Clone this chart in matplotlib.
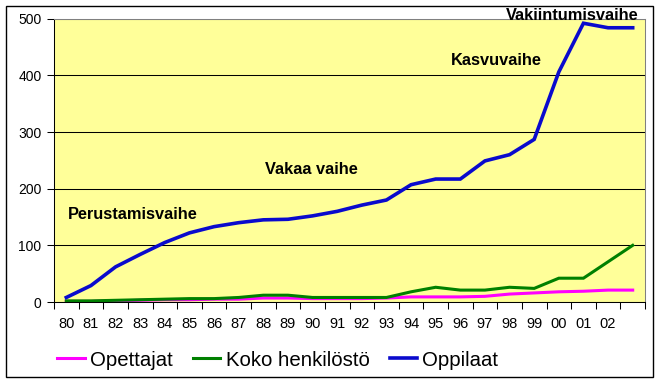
import matplotlib
matplotlib.use("Agg")
import matplotlib.pyplot as plt
from matplotlib.patches import Rectangle

plt.rcParams["font.family"] = ["Liberation Sans", "DejaVu Sans"]

years = list(range(1980, 2004))
year_labels = [str(y)[2:] for y in years[:-1]] + [""]

opettajat = [1, 1, 2, 3, 4, 4, 5, 5, 7, 7, 6, 6, 6, 7,
             9, 9, 9, 10, 14, 16, 18, 19, 21, 21]
koko_henkilosto = [2, 2, 3, 4, 5, 6, 6, 8, 12, 12, 8, 8, 8, 8,
                   18, 26, 21, 21, 26, 24, 42, 42, 71, 100]
oppilaat = [8, 29, 62, 84, 105, 122, 133, 140, 145, 146, 152, 160, 171, 180,
            207, 217, 217, 249, 260, 287, 406, 492, 484, 484]

series_names = ["Opettajat", "Koko henkilöstö", "Oppilaat"]
series_colors = ["#FF00FF", "#008000", "#0A0ACD"]

phase_labels = ["Perustamisvaihe", "Vakaa vaihe", "Kasvuvaihe", "Vakiintumisvaihe"]
phase_pos = [(0.07, 155), (8.07, 233), (15.62, 427), (17.86, 505)]

fig = plt.figure(figsize=(6.61, 3.83), dpi=100)
ax = fig.add_axes([54 / 661, 81 / 383, 591 / 661, 283.3 / 383])
ax.set_facecolor("#FFFF99")

x = list(range(len(years)))
for vals, name, col in zip([opettajat, koko_henkilosto, oppilaat], series_names, series_colors):
    lw = 2.6 if name == "Oppilaat" else 2.2
    ax.plot(x, vals, color=col, lw=lw, label=name, solid_joinstyle="miter")

ax.set_xlim(-0.5, len(years) - 0.5)
ax.set_ylim(0, 500)
ax.set_yticks(range(0, 501, 100))
ax.yaxis.grid(True, color="black", lw=0.75)
ax.set_axisbelow(True)

# ticks between categories, labels at category centres
ax.set_xticks([i - 0.5 for i in range(len(years) + 1)])
ax.set_xticklabels([])
ax.set_xticks(x, minor=True)
ax.set_xticklabels(year_labels, minor=True)
ax.tick_params(axis="x", which="major", length=5, width=0.75, color="black")
ax.tick_params(axis="x", which="minor", length=0, pad=10.5, labelsize=10.5)
ax.tick_params(axis="y", length=5, width=0.75, pad=4, labelsize=10)

for side in ["top", "right"]:
    ax.spines[side].set_color("#808080")
    ax.spines[side].set_linewidth(0.75)
for side in ["left", "bottom"]:
    ax.spines[side].set_color("black")
    ax.spines[side].set_linewidth(0.75)

for txt, (px, py) in zip(phase_labels, phase_pos):
    ax.text(px, py, txt, fontsize=11.8, fontweight="bold", ha="left", va="center",
            clip_on=False)

fig.legend(loc="center left", bbox_to_anchor=(57 / 661, 23 / 383), ncol=3,
           frameon=False, fontsize=14.7, handlelength=1.35, handletextpad=0.25,
           columnspacing=1.0, borderpad=0, borderaxespad=0)

fig.add_artist(Rectangle((6 / 661, 6 / 383), 647 / 661, 371 / 383, transform=fig.transFigure,
                         fill=False, edgecolor="black", lw=1))

fig.savefig("out.png", dpi=100)
